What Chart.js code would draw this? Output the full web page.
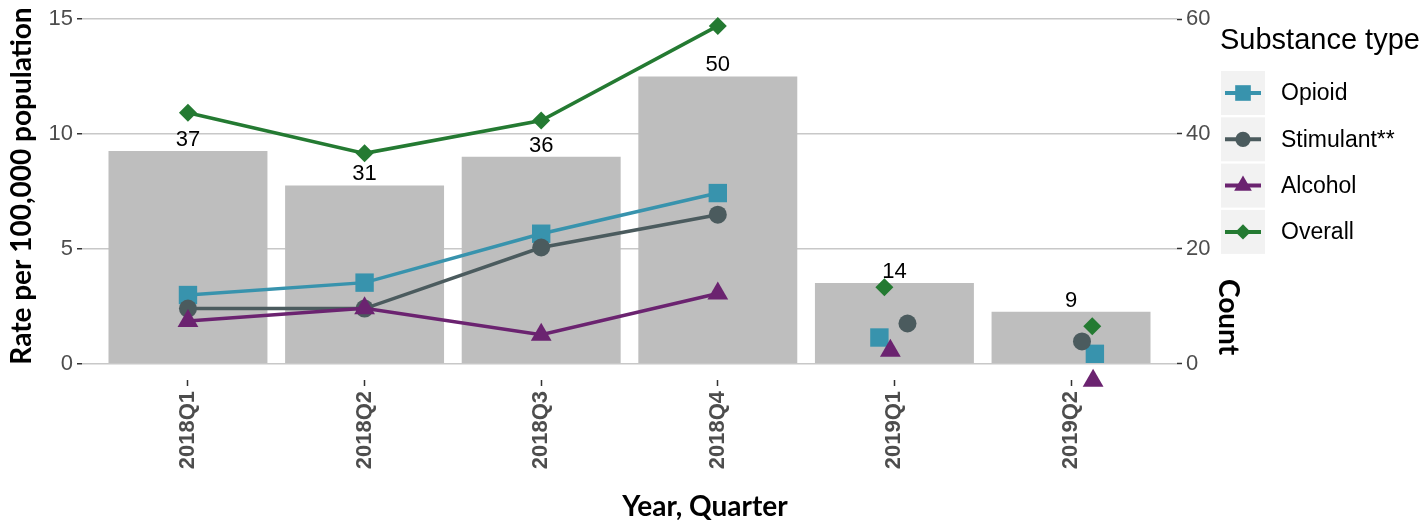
<!DOCTYPE html>
<html>
<head>
<meta charset="utf-8">
<script src="https://cdn.jsdelivr.net/npm/chart.js@4.4.0/dist/chart.umd.min.js"></script>
<style>
html, body { margin: 0; padding: 0; background: #fff; }
#wrap { width: 1424px; height: 520px; position: relative; }
</style>
</head>
<body>
<div id="wrap"><canvas id="chart"></canvas></div>
<script>
const quarters = ['2018Q1', '2018Q2', '2018Q3', '2018Q4', '2019Q1', '2019Q2'];
const counts = [37, 31, 36, 50, 14, 9];
const opioid = [2.98, 3.52, 5.65, 7.42, 1.13, 0.42];
const stimulant = [2.39, 2.39, 5.05, 6.48, 1.74, 0.96];
const alcohol = [1.85, 2.4, 1.25, 3.05, 0.55, -0.75];
const overall = [10.92, 9.15, 10.58, 14.7, 3.32, 1.62];
const rateTicks = [0, 5, 10, 15];
const countTicks = [0, 20, 40, 60];

// horizontal jitter of the unconnected 2019 points, in category units
const jitter = {
  opioid:    [0, 0, 0, 0, -0.085, 0.135],
  stimulant: [0, 0, 0, 0, 0.074, 0.062],
  alcohol:   [0, 0, 0, 0, -0.023, 0.125],
  overall:   [0, 0, 0, 0, -0.057, 0.12]
};

const COLORS = { opioid: '#3893ad', stimulant: '#4b5b5e', alcohol: '#6b2370', overall: '#247a32' };
const FONT = '"Liberation Sans", Arial, sans-serif';
const TITLE_FONT = 'Lato, "Open Sans", sans-serif';
const RATIO = 4; // count axis = 4 x rate axis
const RATE_MIN = -0.72, RATE_MAX = 15;

function lineSet(label, values, jit, color, style, radius, order) {
  return {
    type: 'line',
    label: label,
    yAxisID: 'y',
    order: order,
    clip: false,
    data: values.map((v, i) => ({ x: i + jit[i], y: v })),
    borderColor: color,
    backgroundColor: color,
    borderWidth: 3.5,
    pointStyle: style,
    pointRadius: radius,
    pointHoverRadius: radius,
    pointBorderWidth: 0,
    pointBackgroundColor: color,
    tension: 0,
    fill: false,
    // 2019 points are not joined
    segment: { borderColor: ctx => ctx.p0DataIndex >= 3 ? 'rgba(0,0,0,0)' : color }
  };
}

const decor = {
  id: 'decor',
  afterDatasetsDraw(chart) {
    const ctx = chart.ctx, xs = chart.scales.x, y2 = chart.scales.y2;
    ctx.save();
    ctx.font = '22px ' + FONT;
    ctx.fillStyle = '#000';
    ctx.textAlign = 'center';
    ctx.textBaseline = 'alphabetic';
    counts.forEach((c, i) => ctx.fillText(String(c), xs.getPixelForValue(i), y2.getPixelForValue(c) - 5));
    ctx.restore();
  },
  afterDraw(chart) {
    const ctx = chart.ctx;
    ctx.save();
    ctx.fillStyle = '#000';
    ctx.textAlign = 'center';
    ctx.textBaseline = 'middle';
    ctx.font = 'bold 28px ' + TITLE_FONT;

    // left axis title
    ctx.save();
    ctx.translate(22, 186);
    ctx.rotate(-Math.PI / 2);
    ctx.fillText('Rate per 100,000 population', 0, 0);
    ctx.restore();

    // right axis title
    ctx.save();
    ctx.translate(1228, 317);
    ctx.rotate(Math.PI / 2);
    ctx.fillText('Count', 0, 0);
    ctx.restore();

    // x axis title
    ctx.fillText('Year, Quarter', 705, 507);

    // legend
    ctx.textAlign = 'left';
    ctx.font = '29px ' + FONT;
    ctx.fillText('Substance type', 1220, 41);
    ctx.font = '23px ' + FONT;
    const sets = chart.data.datasets.filter(d => d.type === 'line');
    sets.forEach((d, k) => {
      const top = 71 + k * 46.3, cy = top + 22;
      ctx.fillStyle = '#f2f2f2';
      ctx.fillRect(1221, top, 44, 44);
      ctx.strokeStyle = d.borderColor;
      ctx.lineWidth = 4;
      ctx.beginPath();
      ctx.moveTo(1225, cy);
      ctx.lineTo(1261, cy);
      ctx.stroke();
      ctx.fillStyle = d.borderColor;
      Chart.helpers.drawPoint(ctx, { pointStyle: d.pointStyle, radius: d.pointRadius * 0.85, rotation: 0, borderWidth: 0 }, 1243, cy);
      ctx.fillStyle = '#000';
      ctx.fillText(d.label, 1281, cy + 1);
    });
    ctx.restore();
  }
};

new Chart(document.getElementById('chart').getContext('2d'), {
  type: 'bar',
  data: {
    datasets: [
      lineSet('Opioid', opioid, jitter.opioid, COLORS.opioid, 'rect', 13, 4),
      lineSet('Stimulant**', stimulant, jitter.stimulant, COLORS.stimulant, 'circle', 9, 3),
      lineSet('Alcohol', alcohol, jitter.alcohol, COLORS.alcohol, 'triangle', 12, 2),
      lineSet('Overall', overall, jitter.overall, COLORS.overall, 'rectRot', 9, 1),
      {
        type: 'bar',
        label: 'Count',
        yAxisID: 'y2',
        order: 10,
        data: counts.map((c, i) => ({ x: i, y: c })),
        backgroundColor: '#bebebe',
        barPercentage: 0.9,
        categoryPercentage: 1
      }
    ]
  },
  options: {
    responsive: true,
    maintainAspectRatio: false,
    animation: false,
    layout: { padding: { top: 19, left: 0, right: 207, bottom: 0 } },
    plugins: { legend: { display: false }, tooltip: { enabled: false } },
    scales: {
      x: {
        type: 'linear',
        min: -0.6,
        max: 5.6,
        offset: false,
        afterBuildTicks: axis => { axis.ticks = quarters.map((q, i) => ({ value: i })); },
        afterFit: s => { s.height = 140; },
        ticks: {
          callback: v => quarters[v],
          minRotation: 90,
          maxRotation: 90,
          autoSkip: false,
          padding: 5,
          color: '#4d4d4d',
          font: { family: FONT, size: 22, weight: 'bold' }
        },
        grid: { drawOnChartArea: false, offset: false, tickLength: 6, tickColor: '#333', tickWidth: 1.5 },
        border: { display: false }
      },
      y: {
        position: 'left',
        min: RATE_MIN,
        max: RATE_MAX,
        afterBuildTicks: axis => { axis.ticks = rateTicks.map(v => ({ value: v })); },
        afterFit: s => { s.width = 82; },
        ticks: { color: '#4d4d4d', padding: 4, font: { family: FONT, size: 22 } },
        grid: { color: '#c8c8c8', lineWidth: 1.5, tickLength: 5, tickColor: '#333', tickWidth: 1.5 },
        border: { display: false }
      },
      y2: {
        position: 'right',
        min: RATE_MIN * RATIO,
        max: RATE_MAX * RATIO,
        afterBuildTicks: axis => { axis.ticks = countTicks.map(v => ({ value: v })); },
        afterFit: s => { s.width = 40; },
        ticks: { color: '#4d4d4d', padding: 4, font: { family: FONT, size: 22 } },
        grid: { drawOnChartArea: false, tickLength: 5, tickColor: '#333', tickWidth: 1.5 },
        border: { display: false }
      }
    }
  },
  plugins: [decor]
});
</script>
</body>
</html>
